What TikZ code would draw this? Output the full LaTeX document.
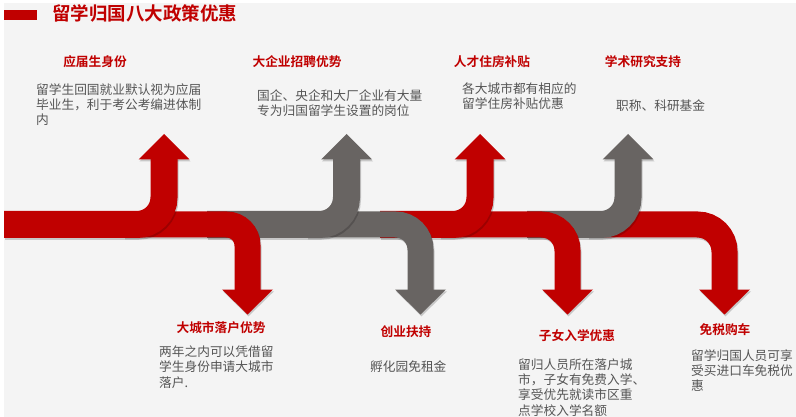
\documentclass[tikz,border=0pt]{standalone}
\usepackage{fontspec}
\setmainfont{Noto Sans CJK SC}[BoldFont={* Bold}]
\definecolor{polred}{HTML}{C00000}
\definecolor{polgray}{HTML}{686462}
\definecolor{bodygray}{HTML}{555555}
\definecolor{bgpanel}{HTML}{F4F4F4}
\newcommand\polUp[4]{% colour, start x, centre x, radius
  \foreach \dx/\dy/\op/\col in {1/1.8/.18/black, 0/0/1/#1} {
    \begin{scope}[shift={(\dx,\dy)}]
      \draw[line width=27pt, draw=\col, draw opacity=\op, rounded corners=#4pt]
        (#2,224.5) -- (#3,224.5) -- (#3,158);
      \fill[fill=\col, fill opacity=\op]
        (#3-25.5,159.5) -- (#3,134) -- (#3+25.5,159.5) -- cycle;
    \end{scope}
  }}
\newcommand\polDown[4]{% colour, start x, centre x, radius
  \foreach \dx/\dy/\op/\col in {1/1.8/.18/black, 0/0/1/#1} {
    \begin{scope}[shift={(\dx,\dy)}]
      \draw[line width=26pt, draw=\col, draw opacity=\op, rounded corners=#4pt]
        (#2,224.5) -- (#3,224.5) -- (#3,290.5);
      \fill[fill=\col, fill opacity=\op]
        (#3-25.5,289.5) -- (#3,314.5) -- (#3+25.5,289.5) -- cycle;
    \end{scope}
  }}
\begin{document}
\begin{tikzpicture}[x=1pt,y=-1pt,
  headtxt/.style={font=\bfseries\fontsize{12.7}{15.4}\selectfont, text=polred, inner sep=0pt, anchor=base},
  bodytxt/.style={font=\fontsize{12.7}{15.4}\selectfont, text=bodygray, inner sep=0pt, align=left, anchor=base west}]
\useasboundingbox (0,0) rectangle (796,417);
\fill[white] (0,0) rectangle (796,417);
\fill[bgpanel] (4,3) rectangle (796,417);
% title
\fill[polred] (4,10) rectangle (37,20);
\node[font=\bfseries\fontsize{18.5}{20}\selectfont, text=polred, inner sep=0pt, anchor=base west] (title) at (52,21) {留学归国八大政策优惠};
% arrows, from the bottom layer up
\polDown{polred}{588}{724.5}{27}
\polUp{polgray}{527}{628}{27}
\polDown{polred}{440}{567.5}{26}
\polUp{polred}{380}{480}{27}
\polDown{polgray}{307}{420.5}{25}
\polUp{polgray}{207}{346.5}{27}
\polDown{polred}{124}{247.5}{21}
\polUp{polred}{4}{164}{27}
% headings
\node[headtxt] (h1) at (95,66.5) {应届生身份};
\node[headtxt] (h2) at (297,66.5) {大企业招聘优势};
\node[headtxt] (h3) at (492,66.5) {人才住房补贴};
\node[headtxt] (h4) at (643,66.5) {学术研究支持};
\node[headtxt] (h5) at (221,332.5) {大城市落户优势};
\node[headtxt] (h6) at (406,336.5) {创业扶持};
\node[headtxt] (h7) at (577,340.5) {子女入学优惠};
\node[headtxt] (h8) at (725,334.5) {免税购车};
% texts (anchor at the baseline of the last line)
\node[bodytxt] (b1) at (36,125) {留学生回国就业默认视为应届\\毕业生，利于考公考编进体制\\内};
\node[bodytxt] (b2) at (257,115.5) {国企、央企和大厂企业有大量\\专为归国留学生设置的岗位};
\node[bodytxt] (b3) at (462,108.5) {各大城市都有相应的\\留学住房补贴优惠};
\node[bodytxt] (b4) at (616,111) {职称、科研基金};
\node[bodytxt] (b5) at (159,387) {两年之内可以凭借留\\学生身份申请大城市\\落户.};
\node[bodytxt] (b6) at (370,371) {孵化园免租金};
\node[bodytxt] (b7) at (518,415.2) {留归人员所在落户城\\市，子女有免费入学、\\享受优先就读市区重\\点学校入学名额};
\node[bodytxt] (b8) at (691,390.8) {留学归国人员可享\\受买进口车免税优\\惠};
\end{tikzpicture}
\end{document}
